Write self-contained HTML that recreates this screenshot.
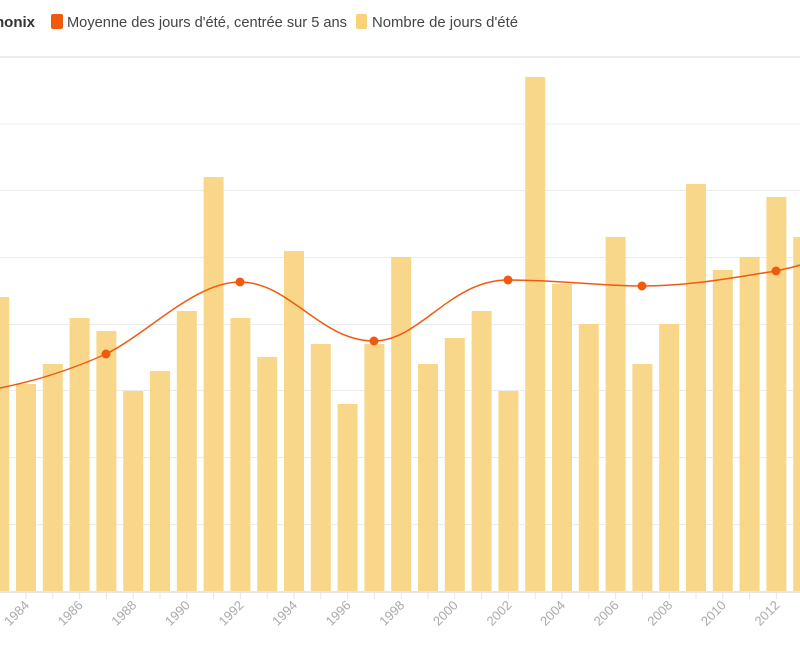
<!DOCTYPE html>
<html><head><meta charset="utf-8"><style>
body{margin:0;background:#fff;width:800px;height:650px;overflow:hidden;font-family:"Liberation Sans",sans-serif}
</style></head><body>
<svg width="800" height="650" xmlns="http://www.w3.org/2000/svg" font-family="Liberation Sans, sans-serif">
<text x="35" y="27" text-anchor="end" font-size="15" font-weight="bold" fill="#333">Chamonix</text>
<rect x="51" y="14" width="12" height="15" rx="2" fill="#f05a0f"/>
<text x="67" y="27" font-size="15" fill="#444" textLength="280" lengthAdjust="spacingAndGlyphs">Moyenne des jours d'été, centrée sur 5 ans</text>
<rect x="356" y="14" width="11" height="15" rx="2" fill="#f7d279"/>
<text x="372" y="27" font-size="15" fill="#444" textLength="146" lengthAdjust="spacingAndGlyphs">Nombre de jours d'été</text>
<g stroke="#ececec" stroke-width="1">
<line x1="0" y1="57" x2="800" y2="57" stroke-width="2"/>
<line x1="0" y1="124" x2="800" y2="124"/>
<line x1="0" y1="190.5" x2="800" y2="190.5"/>
<line x1="0" y1="257.5" x2="800" y2="257.5"/>
<line x1="0" y1="324.5" x2="800" y2="324.5"/>
<line x1="0" y1="390.5" x2="800" y2="390.5"/>
<line x1="0" y1="457.5" x2="800" y2="457.5"/>
<line x1="0" y1="524.5" x2="800" y2="524.5"/>
</g>
<g id="bars" fill="#f8d78b"></g>
<line x1="0" y1="592" x2="800" y2="592" stroke="#e6e6e6" stroke-width="2"/>
<g id="ticks" stroke="#e6e6e6"></g>
<g id="labels" font-size="13" fill="#aaa"></g>
<path d="M0,388 C40,380 75,368 106,354 C150,332 195,282 240,282 C290,282 320,341 374,341 C420,341 450,280 508,280 C560,280 600,286 642,286 C690,286 730,278 776,271 C785,269 795,267 800,265" fill="none" stroke="#f05a0f" stroke-width="1.5"/>
<g fill="#f05a0f">
<circle cx="106" cy="354" r="4.5"/><circle cx="240" cy="282" r="4.5"/><circle cx="374" cy="341" r="4.5"/>
<circle cx="508" cy="280" r="4.5"/><circle cx="642" cy="286" r="4.5"/><circle cx="776" cy="271" r="4.5"/>
</g>
</svg>
<script>
var tops=[297,384,364,318,331,391,371,311,177,318,357,251,344,404,344,257,364,338,311,391,77,284,324,237,364,324,184,270,257,197,237];
var ns="http://www.w3.org/2000/svg",b=document.getElementById("bars"),t=document.getElementById("ticks"),l=document.getElementById("labels");
for(var i=0;i<tops.length;i++){var y=1983+i,c=26+(y-1984)*26.8;
var r=document.createElementNS(ns,"rect");r.setAttribute("x",c-10);r.setAttribute("y",tops[i]);r.setAttribute("width",20);r.setAttribute("height",591-tops[i]);b.appendChild(r);
var k=document.createElementNS(ns,"line");k.setAttribute("x1",c);k.setAttribute("x2",c);k.setAttribute("y1",592);k.setAttribute("y2",599);t.appendChild(k);
if(y%2==0){var tx=document.createElementNS(ns,"text");tx.setAttribute("x",c+4);tx.setAttribute("y",606);tx.setAttribute("text-anchor","end");tx.setAttribute("transform","rotate(-45 "+(c+4)+" 606)");tx.textContent=y;l.appendChild(tx);}}
</script>
</body></html>
